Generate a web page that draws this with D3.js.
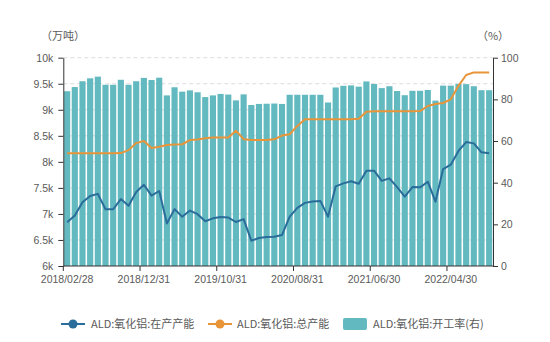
<!DOCTYPE html>
<html><head><meta charset="utf-8">
<script src="https://cdn.jsdelivr.net/npm/d3@7"></script>
<style>
html,body{margin:0;padding:0;background:#fff;}
svg{display:block;font-family:"Noto Sans CJK SC","Noto Sans",sans-serif;}
</style></head>
<body><svg id="c" width="550" height="342"></svg>
<script>
const categories = ["2018/02/28","2018/03/31","2018/04/30","2018/05/31","2018/06/30","2018/07/31","2018/08/31","2018/09/30","2018/10/31","2018/11/30","2018/12/31",
"2019/01/31","2019/02/28","2019/03/31","2019/04/30","2019/05/31","2019/06/30","2019/07/31","2019/08/31","2019/09/30","2019/10/31","2019/11/30","2019/12/31",
"2020/01/31","2020/02/29","2020/03/31","2020/04/30","2020/05/31","2020/06/30","2020/07/31","2020/08/31","2020/09/30","2020/10/31","2020/11/30","2020/12/31",
"2021/01/31","2021/02/28","2021/03/31","2021/04/30","2021/05/31","2021/06/30","2021/07/31","2021/08/31","2021/09/30","2021/10/31","2021/11/30","2021/12/31",
"2022/01/31","2022/02/28","2022/03/31","2022/04/30","2022/05/31","2022/06/30","2022/07/31","2022/08/31","2022/09/30"];
const xTickLabels = ["2018/02/28","2018/12/31","2019/10/31","2020/08/31","2021/06/30","2022/04/30"];
const leftTicks = [6000,6500,7000,7500,8000,8500,9000,9500,10000];
const leftTickLabels = ["6k","6.5k","7k","7.5k","8k","8.5k","9k","9.5k","10k"];
const rightTicks = [0,20,40,60,80,100];

const operating = [6840,6970,7225,7345,7385,7090,7090,7285,7155,7420,7560,
7350,7440,6818,7092,6945,7065,6995,6860,6915,6940,6930,6845,
6900,6486,6538,6555,6560,6595,6947,7115,7212,7240,7250,6947,
7530,7587,7628,7580,7830,7830,7635,7683,7515,7331,7515,7510,
7619,7235,7862,7945,8210,8380,8355,8183,8163];
const total = [8165,8165,8165,8165,8165,8165,8165,8168,8225,8360,8400,
8268,8290,8325,8333,8338,8418,8430,8455,8467,8467,8467,8598,
8435,8420,8420,8420,8432,8505,8530,8690,8816,8820,8820,8820,
8820,8820,8820,8830,8960,8970,8970,8970,8970,8970,8970,8975,
9072,9110,9130,9200,9460,9667,9718,9718,9718];
const rate = [83.9,85.9,88.7,90.1,90.9,87.0,87.0,89.4,87.0,88.7,90.3,
89.3,90.4,81.9,85.8,83.7,84.3,83.4,81.1,81.9,82.6,82.3,79.5,
82.4,77.3,77.8,77.9,78.0,77.8,82.2,82.2,82.2,82.2,82.2,78.5,
85.7,86.5,86.7,86.1,88.6,87.4,85.4,86.3,84.0,82.0,84.1,84.1,
84.5,79.4,86.6,86.6,87.4,87.3,86.3,84.4,84.4];

const seriesNames = ["ALD:氧化铝:在产产能","ALD:氧化铝:总产能","ALD:氧化铝:开工率(右)"];
const colors = {blue:"#2a6d9a", orange:"#e8953a", bar:"#62b9bf", text:"#5a5a5a", axis:"#333", grid:"#dcdcdc"};

const svg = d3.select("#c");
const L = 63.3, R = 493, T = 57.7, B = 266;
const FS = 10.5;
const tickFont = "'Liberation Sans','DejaVu Sans',sans-serif";

const x = d3.scaleBand().domain(categories).range([L,R]).paddingInner(0.2).paddingOuter(0.1);
const step = x.step();
const yL = d3.scaleLinear().domain([6000,10000]).range([B,T]);
const yR = d3.scaleLinear().domain([0,100]).range([B,T]);

// gridlines
svg.append("g").selectAll("line").data(leftTicks.slice(1)).join("line")
  .attr("x1",L).attr("x2",R).attr("y1",d=>yL(d)).attr("y2",d=>yL(d))
  .attr("stroke",colors.grid).attr("stroke-dasharray","4,3").attr("stroke-width",1);

// bars
svg.append("g").selectAll("rect").data(rate).join("rect")
  .attr("x",(d,i)=>x(categories[i])).attr("width",x.bandwidth())
  .attr("y",d=>yR(d)).attr("height",d=>B-yR(d)).attr("fill",colors.bar);

// lines
const cx = (d,i)=>x(categories[i])+x.bandwidth()/2;
const line = d3.line().x(cx).y(d=>yL(d));
svg.append("path").datum(total).attr("d",line).attr("fill","none").attr("stroke",colors.orange).attr("stroke-width",2).attr("stroke-linejoin","round");
svg.append("path").datum(operating).attr("d",line).attr("fill","none").attr("stroke",colors.blue).attr("stroke-width",2).attr("stroke-linejoin","round");

// left axis
const gl = svg.append("g").attr("transform",`translate(${L},0)`)
  .call(d3.axisLeft(yL).tickValues(leftTicks).tickFormat((d,i)=>leftTickLabels[i]).tickSize(5).tickSizeOuter(0).tickPadding(5));
// right axis
const gr = svg.append("g").attr("transform",`translate(${R},0)`)
  .call(d3.axisRight(yR).tickValues(rightTicks).tickSize(5).tickSizeOuter(0).tickPadding(3));
// bottom axis
const gb = svg.append("g").attr("transform",`translate(0,${B})`);
gb.append("line").attr("x1",L).attr("x2",R).attr("y1",0).attr("y2",0).attr("stroke",colors.axis);
gb.selectAll("line.t").data(xTickLabels).join("line").attr("class","t")
  .attr("x1",d=>x(d)-step*0.1).attr("x2",d=>x(d)-step*0.1).attr("y1",0).attr("y2",5).attr("stroke",colors.axis);
gb.selectAll("text").data(xTickLabels).join("text")
  .attr("x",d=>x(d)+x.bandwidth()/2).attr("y",17).attr("text-anchor","middle")
  .attr("fill",colors.text).attr("font-size",FS).attr("font-family",tickFont).text(d=>d);

[gl,gr].forEach(g=>{
  g.select(".domain").attr("stroke",colors.axis);
  g.selectAll(".tick line").attr("stroke",colors.axis);
  g.selectAll(".tick text").attr("fill",colors.text).attr("font-size",FS).attr("font-family",tickFont);
});

// unit labels
svg.append("text").attr("x",63).attr("y",40).attr("text-anchor","middle").attr("fill",colors.text).attr("font-size",11).text("（万吨）");
svg.append("text").attr("x",493).attr("y",40).attr("text-anchor","middle").attr("fill",colors.text).attr("font-size",11).text("（%）");

// legend
const ly = 324;
const lg = svg.append("g");
function lineSym(x0,c){
  lg.append("line").attr("x1",x0).attr("x2",x0+24).attr("y1",ly).attr("y2",ly).attr("stroke",c).attr("stroke-width",2);
  lg.append("circle").attr("cx",x0+12).attr("cy",ly).attr("r",4.5).attr("fill",c);
}
lineSym(61,colors.blue);
lg.append("text").attr("x",91).attr("y",ly+4).attr("fill",colors.text).attr("font-size",11).text(seriesNames[0]);
lineSym(208,colors.orange);
lg.append("text").attr("x",237).attr("y",ly+4).attr("fill",colors.text).attr("font-size",11).text(seriesNames[1]);
lg.append("rect").attr("x",343).attr("y",ly-6).attr("width",24).attr("height",12).attr("rx",2).attr("fill",colors.bar);
lg.append("text").attr("x",373).attr("y",ly+4).attr("fill",colors.text).attr("font-size",11).text(seriesNames[2]);
</script></body></html>
